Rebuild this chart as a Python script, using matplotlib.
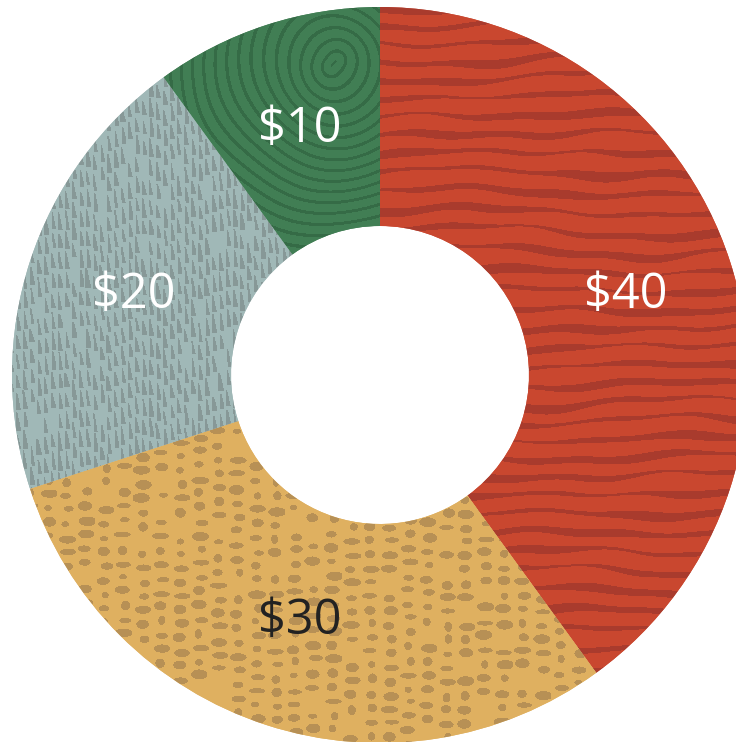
import numpy as np
import matplotlib
matplotlib.use("Agg")
import matplotlib.pyplot as plt

labels = ["$40", "$30", "$20", "$10"]
values = [40, 30, 20, 10]
base_colors = ["#c9472f", "#dfb060", "#a0b8b7", "#417e54"]
mark_colors = ["#a93b2d", "#b79055", "#879897", "#356b46"]
label_colors = ["white", "#222222", "white", "white"]

W, H = 736, 742
cx, cy, R = 380, 375, 368
hole = 149

yy, xx = np.mgrid[0:H, 0:W].astype(float)


def hash2(a, b):
    return np.modf(np.abs(np.sin(a * 12.9898 + b * 78.233) * 43758.5453))[0]


def red_marks():
    v = yy + 4 * np.sin(xx / 90 + yy / 70) + 2.5 * np.sin(xx / 37 - yy / 41) + 1.2 * np.sin(xx / 15 + yy / 23)
    p = 19.0
    ph = (v / p) % 1
    k = np.floor(v / p)
    thick = 0.3 + 0.13 * np.sin(xx / 55 + k * 1.7) + 0.06 * np.sin(xx / 19 + k * 2.3)
    return ph < thick


def orange_marks():
    cw, ch = 19.0, 14.0
    i = np.floor(xx / cw)
    off = hash2(i, 3.0) * ch
    j = np.floor((yy + off) / ch)
    h1, h2, h3, h4 = hash2(i, j), hash2(j, i + 7), hash2(i + 3, j + 5), hash2(i + 11, j + 2)
    px = i * cw + cw / 2 + (h1 - 0.5) * 4
    py = j * ch - off + ch / 2 + (h2 - 0.5) * 3
    a = 3.5 + 5.5 * h3
    b = 2.5 + 2.5 * h4
    inside = ((xx - px) / a) ** 2 + ((yy - py) / b) ** 2 < 1
    return inside & (hash2(i + 5, j + 9) < 0.9)


def gray_marks():
    cw, ch = 7.0, 20.0
    i = np.floor(xx / cw)
    off = hash2(i, 1.0) * ch
    j = np.floor((yy + off) / ch)
    px = i * cw + cw / 2 + (hash2(i, j) - 0.5) * 1.5
    py = j * ch - off + ch / 2
    L = 6.5 + 3.5 * hash2(j, i + 4)
    w = 1.8 + 1.2 * hash2(i + 2, j + 8)
    t = (yy - py) / L
    wid = w * (0.3 + 0.7 * (t + 1) / 2)
    inside = (np.abs(t) < 1) & (np.abs(xx - px - t * 1.0) < wid)
    return inside & (hash2(i + 9, j + 1) < 0.93)


def green_marks():
    dx, dy = xx - 333, yy - 63
    r = np.hypot(dx, dy)
    ang = np.arctan2(dy, dx)
    r2 = r + 2 * np.sin(ang * 2 + r / 35) + 2 * np.sin(xx / 25 + yy / 40)
    return (r2 / 11.5) % 1 < 0.28


def texture(base, mark, mask):
    b = np.array(matplotlib.colors.to_rgb(base))
    m = np.array(matplotlib.colors.to_rgb(mark))
    img = np.empty((H, W, 3))
    img[:] = b
    img[mask] = m
    return img


fig = plt.figure(figsize=(W / 100, H / 100), dpi=100)
ax = fig.add_axes([0, 0, 1, 1])
ax.axis("off")

ring = 1 - hole / R
wedges, _ = ax.pie(values, colors=base_colors, startangle=90, counterclock=False,
                   radius=1, wedgeprops=dict(width=ring, linewidth=0))
ax.set_xlim(-cx / R, (W - cx) / R)
ax.set_ylim(-(H - cy) / R, cy / R)
ax.set_aspect("auto")

masks = [red_marks(), orange_marks(), gray_marks(), green_marks()]
extent = (-cx / R, (W - cx) / R, -(H - cy) / R, cy / R)
for w, base, mark, mask in zip(wedges, base_colors, mark_colors, masks):
    im = ax.imshow(texture(base, mark, mask), extent=extent, origin="upper",
                   interpolation="bilinear", aspect="auto", zorder=2)
    im.set_clip_path(w)

rl = 1 - ring / 2
for w, lab, col in zip(wedges, labels, label_colors):
    a = np.deg2rad((w.theta1 + w.theta2) / 2)
    ax.text(rl * np.cos(a), rl * np.sin(a), lab, color=col, fontsize=35,
            family="Open Sans", ha="center", va="center", zorder=3)

fig.savefig("out.png", dpi=100)
